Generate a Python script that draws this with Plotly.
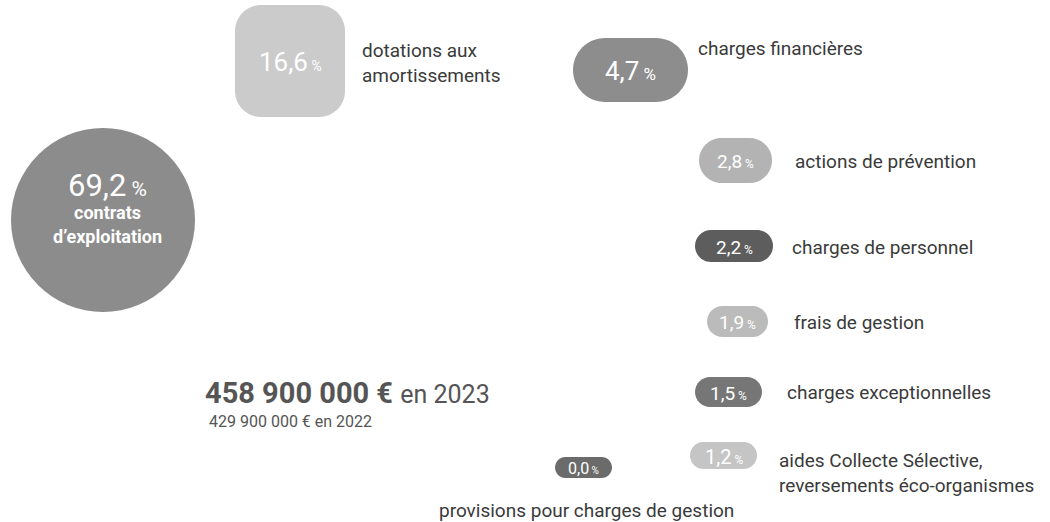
import plotly.graph_objects as go

# Répartition des dépenses 2023 (en % du total)
categories = [
    "contrats d'exploitation",
    "dotations aux amortissements",
    "charges financières",
    "actions de prévention",
    "charges de personnel",
    "frais de gestion",
    "charges exceptionnelles",
    "aides Collecte Sélective, reversements éco-organismes",
    "provisions pour charges de gestion",
]
shares = [69.2, 16.6, 4.7, 2.8, 2.2, 1.9, 1.5, 1.2, 0.0]

total_2023 = "458 900 000 €"
total_2022 = "429 900 000 €"

W, H = 1050, 522
FONT = "Roboto"
TXT = "#3a3a3a"
LABEL_SIZE = 19

# Placement of each badge: (kind, x0, y0, x1, y1, fill, value size, % size, label spec)
# label spec: (x, y, anchor, lines)
badges = [
    ("circle", 11, 128, 195, 312, "#8c8c8c", 31, 21, None),
    ("rect", 235, 5, 345, 117, "#cbcbcb", 26, 14,
     (360, 63, "left", ["dotations aux", "amortissements"])),
    ("pill", 573, 38, 688, 102, "#8d8d8d", 26, 17,
     (696, 48, "left", ["charges financières"])),
    ("pill", 699, 138, 772, 183, "#b3b3b3", 19, 12,
     (793, 161, "left", ["actions de prévention"])),
    ("pill", 695, 230, 773, 262, "#5d5d5d", 19, 12,
     (790, 247, "left", ["charges de personnel"])),
    ("pill", 707, 306, 768, 337, "#bbbbbb", 19, 12,
     (792, 322, "left", ["frais de gestion"])),
    ("pill", 695, 377, 762, 407, "#767676", 19, 12,
     (785, 392, "left", ["charges exceptionnelles"])),
    ("pill", 690, 442, 757, 469, "#c5c5c5", 20, 12,
     (777, 473, "left", ["aides Collecte Sélective,", "reversements éco-organismes"])),
    ("pill", 555, 457, 612, 478, "#6b6b6b", 16, 10,
     (586, 510, "center", ["provisions pour charges de gestion"])),
]

K = 0.5523


def rounded_path(x0, y0, x1, y1, r):
    r = min(r, (x1 - x0) / 2, (y1 - y0) / 2)
    c = r * (1 - K)
    return (
        f"M{x0 + r},{y0} L{x1 - r},{y0} "
        f"C{x1 - c},{y0} {x1},{y0 + c} {x1},{y0 + r} "
        f"L{x1},{y1 - r} "
        f"C{x1},{y1 - c} {x1 - c},{y1} {x1 - r},{y1} "
        f"L{x0 + r},{y1} "
        f"C{x0 + c},{y1} {x0},{y1 - c} {x0},{y1 - r} "
        f"L{x0},{y0 + r} "
        f"C{x0},{y0 + c} {x0 + c},{y0} {x0 + r},{y0} Z"
    )


def fmt(v):
    return f"{v:.1f}".replace(".", ",")


shapes = []
annotations = []

for (kind, x0, y0, x1, y1, fill, fs, ps, lab), name, val in zip(badges, categories, shares):
    if kind == "circle":
        shapes.append(dict(type="circle", xref="x", yref="y", x0=x0, y0=y0, x1=x1, y1=y1,
                           fillcolor=fill, line=dict(width=0), layer="below"))
    else:
        r = 26 if kind == "rect" else (y1 - y0) / 2
        shapes.append(dict(type="path", xref="x", yref="y",
                           path=rounded_path(x0, y0, x1, y1, r),
                           fillcolor=fill, line=dict(width=0), layer="below"))

    cx = (x0 + x1) / 2
    cy = (y0 + y1) / 2
    if kind == "circle":
        # value and caption stacked in one text block
        block = (f"<span style='font-size:{fs}px'>{fmt(val)}</span>"
                 f"<span style='font-size:{ps}px'> %</span>"
                 "<br><b>contrats</b><br><b>d’exploitation</b>")
        annotations.append(dict(x=cx + 4, y=207, text=block, showarrow=False,
                                xanchor="center", yanchor="middle", align="center",
                                font=dict(family=FONT, size=18, color="white")))
    else:
        value_text = f"{fmt(val)}<span style='font-size:{ps}px'> %</span>"
        annotations.append(dict(x=cx, y=cy + 1, text=value_text, showarrow=False,
                                xanchor="center", yanchor="middle",
                                font=dict(family=FONT, size=fs, color="white")))
        lx, ly, anchor, lines = lab
        annotations.append(dict(x=lx, y=ly, text="<br>".join(lines), showarrow=False,
                                xanchor=anchor, yanchor="middle", align=anchor,
                                font=dict(family=FONT, size=LABEL_SIZE, color=TXT)))

# Totals
annotations.append(dict(x=203, y=393, showarrow=False, xanchor="left", yanchor="middle",
                        text=f"<b>{total_2023}</b> <span style='font-size:25px'>en 2023</span>",
                        font=dict(family=FONT, size=29, color="#555555")))
annotations.append(dict(x=207, y=421, showarrow=False, xanchor="left", yanchor="middle",
                        text=f"{total_2022} en 2022",
                        font=dict(family=FONT, size=16, color="#555555")))

fig = go.Figure()
fig.add_trace(go.Scatter(x=[0, W], y=[0, H], mode="markers",
                         marker=dict(opacity=0), hoverinfo="skip", showlegend=False))
fig.update_layout(
    width=W, height=H,
    margin=dict(l=0, r=0, t=0, b=0),
    paper_bgcolor="white", plot_bgcolor="white",
    xaxis=dict(range=[0, W], visible=False, fixedrange=True),
    yaxis=dict(range=[H, 0], visible=False, fixedrange=True),
    shapes=shapes, annotations=annotations,
    showlegend=False,
)
fig.write_html("out.html")
